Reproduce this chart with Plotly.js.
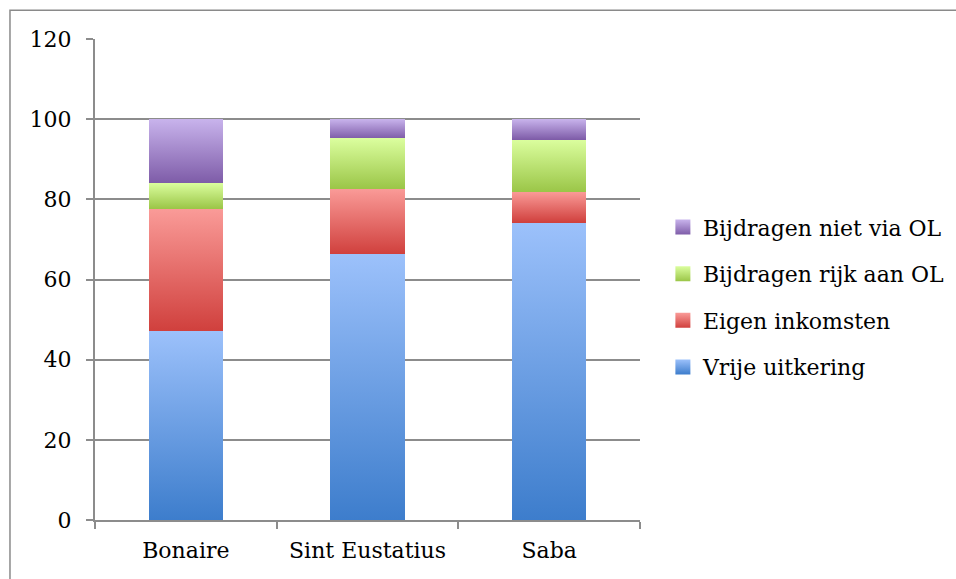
<!DOCTYPE html>
<html>
<head>
<meta charset="utf-8">
<script src="https://cdn.plot.ly/plotly-3.0.1.min.js"></script>
<style>
  html, body { margin: 0; padding: 0; background: #fff; }
  #chart { width: 956px; height: 579px; }
</style>
</head>
<body>
<div id="chart"></div>
<script>
const categories = ["Bonaire", "Sint Eustatius", "Saba"];
const seriesNames = ["Vrije uitkering", "Eigen inkomsten", "Bijdragen rijk aan OL", "Bijdragen niet via OL"];
const vrijeUitkering = [47.2, 66.3, 74.2];
const eigenInkomsten = [30.5, 16.4, 7.7];
const bijdragenRijk = [6.4, 12.5, 13.0];
const bijdragenNiet = [15.9, 4.8, 5.1];
const yTicks = [0, 20, 40, 60, 80, 100, 120];

const seriesValues = [vrijeUitkering, eigenInkomsten, bijdragenRijk, bijdragenNiet];
const midColors = ["#6d9fe6", "#e66e6b", "#bde274", "#a388cc"];
const gradStops = [
  ["#9cc1fb", "#3d7dcc"],
  ["#fa9b98", "#d0403d"],
  ["#dbfe9e", "#9bc648"],
  ["#c8b3ec", "#7e5ca8"]
];

const font = "'DejaVu Serif', serif";

const traces = seriesNames.map((name, i) => ({
  type: "bar",
  name: name,
  x: categories,
  y: seriesValues[i],
  legendgroup: "g" + i,
  legendrank: 1000 - i,
  marker: { color: midColors[i], line: { width: 0 } },
  hoverinfo: "name+y"
}));

const layout = {
  width: 956,
  height: 579,
  margin: { l: 95, r: 316, t: 39, b: 59, autoexpand: false },
  paper_bgcolor: "#ffffff",
  plot_bgcolor: "#ffffff",
  barmode: "stack",
  bargap: 0.59,
  font: { family: font, size: 22, color: "#000" },
  showlegend: true,
  legend: {
    x: 1.042, xanchor: "left",
    y: 0.463, yanchor: "middle",
    traceorder: "grouped",
    tracegroupgap: 15,
    font: { family: font, size: 22, color: "#000" },
    itemwidth: 30,
    bgcolor: "rgba(0,0,0,0)"
  },
  xaxis: {
    type: "category",
    showgrid: false,
    showline: true,
    linecolor: "#8c8c8c",
    linewidth: 2,
    ticks: "outside",
    tickson: "boundaries",
    ticklen: 7,
    tickwidth: 2,
    tickcolor: "#8c8c8c",
    ticklabelstandoff: 10,
    tickfont: { family: font, size: 22 },
    zeroline: false
  },
  yaxis: {
    range: [0, 120],
    tickvals: yTicks,
    ticktext: yTicks.map(String),
    showgrid: true,
    gridcolor: "#8c8c8c",
    gridwidth: 2,
    showline: true,
    linecolor: "#8c8c8c",
    linewidth: 2,
    ticks: "outside",
    ticklen: 7,
    tickwidth: 2,
    tickcolor: "#8c8c8c",
    ticklabelstandoff: 10,
    tickfont: { family: font, size: 22 },
    zeroline: false,
    fixedrange: true
  },
  shapes: [{
    type: "rect",
    xref: "paper", yref: "paper",
    x0: -0.156, x1: 1.6,
    y0: -0.14, y1: 1.06,
    line: { color: "#8a8a8a", width: 1.5 },
    fillcolor: "rgba(0,0,0,0)",
    layer: "below"
  }]
};

Plotly.newPlot("chart", traces, layout, { staticPlot: true, displayModeBar: false }).then(gd => {
  const svg = gd.querySelector("svg.main-svg");
  const ns = "http://www.w3.org/2000/svg";
  let defs = svg.querySelector("defs");
  if (!defs) { defs = document.createElementNS(ns, "defs"); svg.insertBefore(defs, svg.firstChild); }
  gradStops.forEach((st, i) => {
    const lg = document.createElementNS(ns, "linearGradient");
    lg.setAttribute("id", "barGrad" + i);
    lg.setAttribute("x1", "0"); lg.setAttribute("y1", "0");
    lg.setAttribute("x2", "0"); lg.setAttribute("y2", "1");
    const s1 = document.createElementNS(ns, "stop");
    s1.setAttribute("offset", "0"); s1.setAttribute("stop-color", st[0]);
    const s2 = document.createElementNS(ns, "stop");
    s2.setAttribute("offset", "1"); s2.setAttribute("stop-color", st[1]);
    lg.appendChild(s1); lg.appendChild(s2);
    defs.appendChild(lg);
  });
  const barTraces = gd.querySelectorAll(".barlayer .trace.bars");
  barTraces.forEach((t, i) => {
    t.querySelectorAll("path").forEach(p => { p.style.fill = "url(#barGrad" + i + ")"; });
  });
  const legendTraces = gd.querySelectorAll(".legend .traces");
  legendTraces.forEach(t => {
    const d = t.__data__;
    let idx = -1;
    if (d && d[0] && d[0].trace) idx = d[0].trace.index;
    if (idx >= 0) {
      t.querySelectorAll(".legendpoints path").forEach(p => {
        p.style.fill = "url(#barGrad" + idx + ")";
        const tr = p.getAttribute("transform") || "";
        p.setAttribute("transform", tr + " scale(1.25)");
      });
    }
  });
});
</script>
</body>
</html>
